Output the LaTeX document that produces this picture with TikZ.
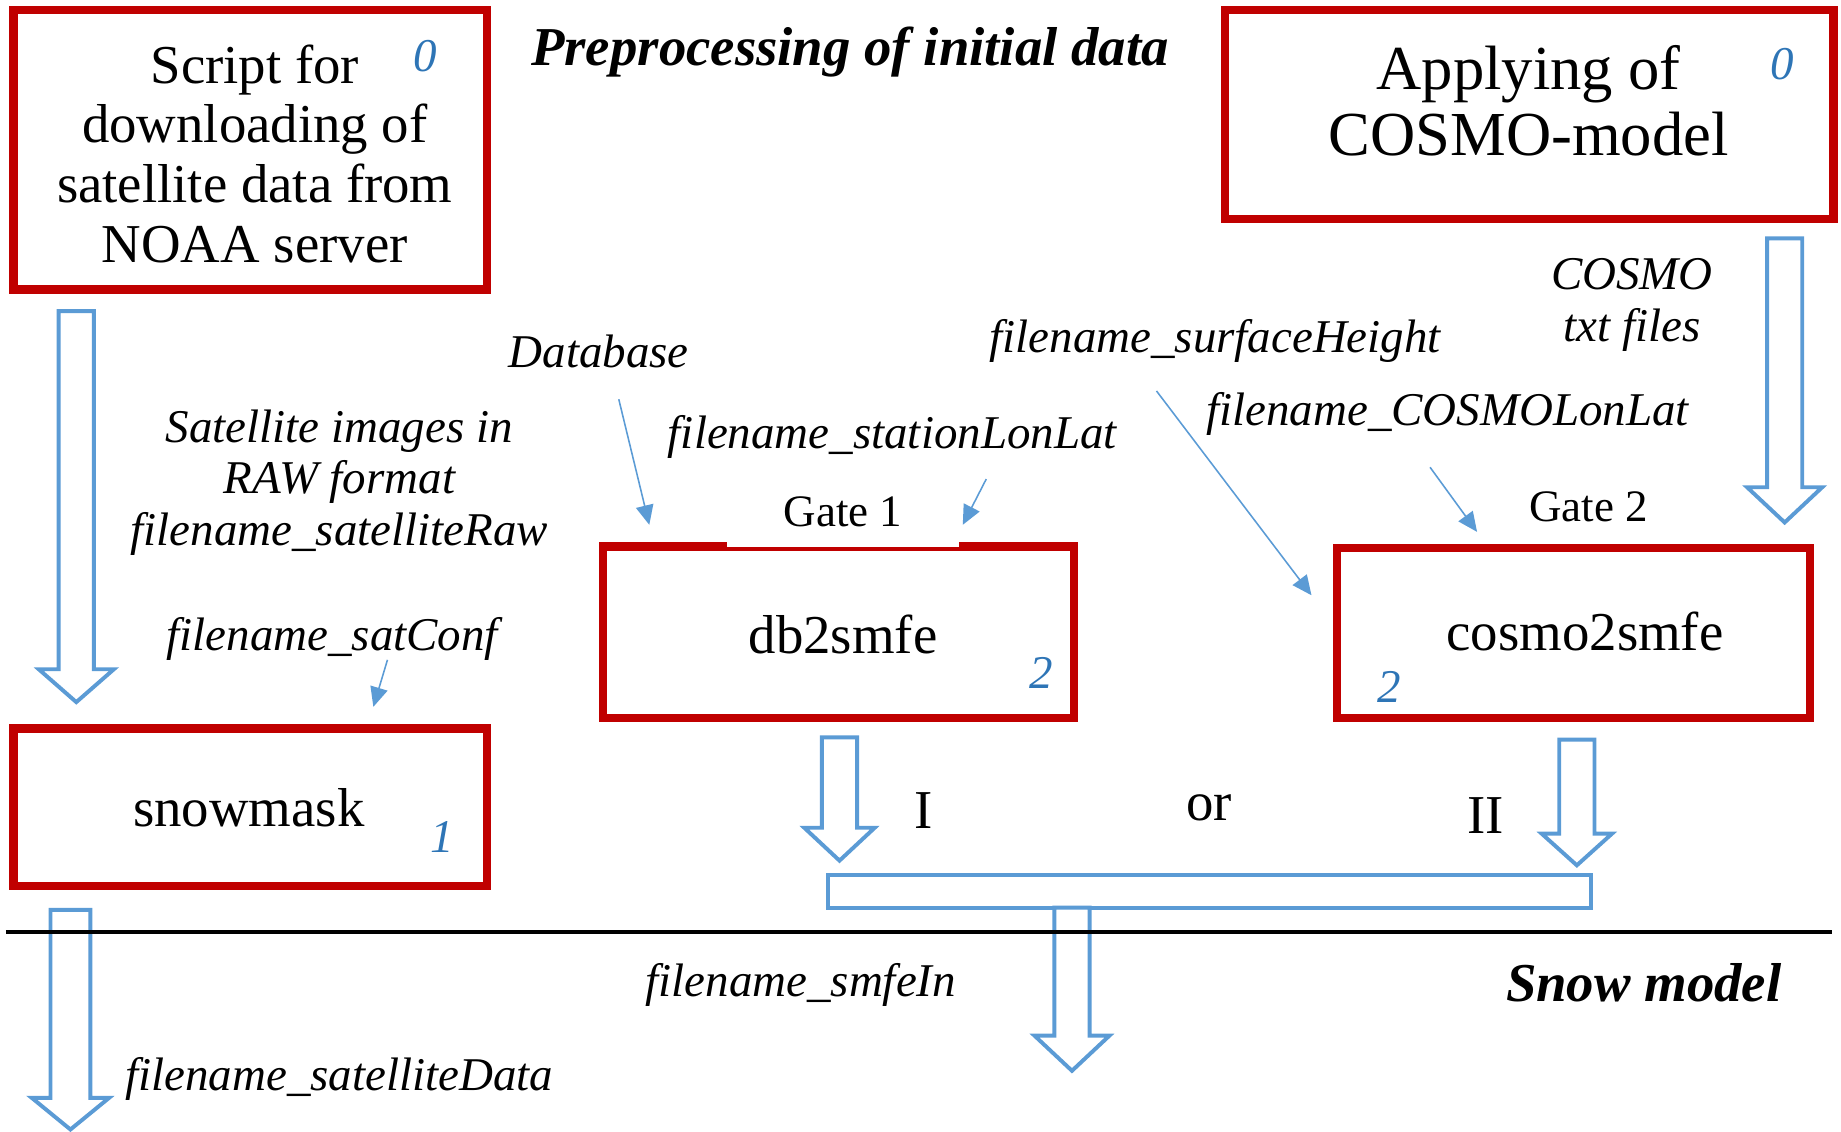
\documentclass[tikz,border=0pt]{standalone}
\usepackage{fontspec}
\setmainfont{Liberation Serif}
\usetikzlibrary{arrows.meta,fit}

\definecolor{boxred}{RGB}{192,0,0}
\definecolor{arrblue}{RGB}{91,155,213}
\definecolor{numblue}{RGB}{46,117,182}

% hollow block arrow pointing down: x, top, neck, tip, half shaft, half head
\newcommand\hollowarrow[6]{%
  \draw[blockarrow] ({#1-#5},#2) -- ({#1+#5},#2) -- ({#1+#5},#3) -- ({#1+#6},#3)
    -- (#1,#4) -- ({#1-#6},#3) -- ({#1-#5},#3) -- cycle;}

\tikzset{
  progbox/.style={draw=boxred, line width=4.2pt, rectangle, inner sep=0pt},
  blockarrow/.style={draw=arrblue, line width=2pt, fill=white, line join=miter},
  thinarrow/.style={draw=arrblue, line width=0.8pt,
    -{Triangle[length=10pt,width=9pt,fill=arrblue]}},
  boxtext/.style={font=\fontsize{28}{30.5}\selectfont, align=center, inner sep=0pt},
  bigtext/.style={font=\fontsize{32}{33.6}\selectfont, align=center, inner sep=0pt},
  flabel/.style={font=\fontsize{24}{26.4}\selectfont\itshape, align=center, inner sep=0pt},
  stepno/.style={font=\fontsize{24}{26}\selectfont\itshape, text=numblue, inner sep=0pt},
  gatetext/.style={font=\fontsize{23}{26}\selectfont},
  heading/.style={font=\fontsize{28}{30}\selectfont\bfseries\itshape, inner sep=0pt},
}

\begin{document}
\begin{tikzpicture}[x=0.6pt,y=-0.6pt]
\useasboundingbox (0,0) rectangle (1568,964);

% ---------- program boxes ----------
\node[progbox, fit={(11.5,8.5) (414.5,246.5)}] (script) {};
\node[progbox, fit={(1043.5,8.5) (1561.5,186.5)}] (cosmo) {};
\node[progbox, fit={(513.5,465.5) (914.5,611.5)}] (db) {};
\node[progbox, fit={(1138.5,466.5) (1541.5,611.5)}] (c2s) {};
\node[progbox, fit={(11.5,620.5) (414.5,754.5)}] (snow) {};

% ---------- box texts and step numbers ----------
\node[boxtext] (scripttxt) at (217,131) {Script for\\downloading of\\satellite data from\\NOAA server};
\node[stepno] (scriptno) at (362,48) {0};
\node[bigtext] (cosmotxt) at (1302,86) {Applying of\\COSMO-model};
\node[stepno] (cosmono) at (1518,55) {0};
\node[boxtext] (dbtxt) at (718,540) {db2smfe};
\node[stepno] (dbno) at (887,573) {2};
\node[boxtext] (c2stxt) at (1350,538) {cosmo2smfe};
\node[stepno] (c2sno) at (1183,585) {2};
\node[boxtext] (snowtxt) at (212,688) {snowmask};
\node[stepno] (snowno) at (377,713) {1};

% ---------- gates ----------
\node[gatetext, fill=white, minimum width=118.8pt, minimum height=36pt] (gate1) at (718,436) {Gate 1};
\node[gatetext] (gate2) at (1353,432) {Gate 2};

% ---------- headings ----------
\node[heading] (pre) at (724,44) {Preprocessing of initial data};
\node[heading] (snowmodel) at (1400,837) {Snow model};

% ---------- file labels ----------
\node[flabel] (rawlbl) at (289,411) {Satellite images in\\RAW format\\filename\_satelliteRaw};
\node[flabel] (conflbl) at (283,544) {filename\_satConf};
\node[flabel] (dblbl) at (510,299) {Database};
\node[flabel] (stlbl) at (760,372) {filename\_stationLonLat};
\node[flabel] (shlbl) at (1035,290) {filename\_surfaceHeight};
\node[flabel] (txtlbl) at (1390,260) {COSMO\\txt files};
\node[flabel] (cllbl) at (1233,353) {filename\_COSMOLonLat};
\node[flabel] (inlbl) at (682,839) {filename\_smfeIn};
\node[flabel] (datalbl) at (289,919) {filename\_satelliteData};

% ---------- variant labels ----------
\node[boxtext] (v1) at (787,690) {I};
\node[boxtext] (vor) at (1030,688) {or};
\node[boxtext] (v2) at (1265,695) {II};

% ---------- block arrows ----------
\hollowarrow{65}{265}{570}{598}{15}{32}
\hollowarrow{1520}{203}{415}{445}{15}{32}
\hollowarrow{715}{628}{705}{733}{15}{30}
\hollowarrow{1343}{630}{710}{737}{15}{30}
\draw[blockarrow] (705,745) rectangle (1355,773);
\hollowarrow{913}{773}{882}{912}{15}{32}
\hollowarrow{60}{775}{935}{962}{17}{33}

% ---------- thin input arrows ----------
\coordinate (confsrc) at (330,562);  \coordinate (confdst) at (318,602);
\coordinate (dbsrc) at (527,340);    \coordinate (dbdst) at (553,447);
\coordinate (stsrc) at (840,408);    \coordinate (stdst) at (820,447);
\coordinate (shsrc) at (985,333);    \coordinate (shdst) at (1117,507);
\coordinate (clsrc) at (1218,398);   \coordinate (cldst) at (1258,453);
\draw[thinarrow] (confsrc) -- (confdst);
\draw[thinarrow] (dbsrc) -- (dbdst);
\draw[thinarrow] (stsrc) -- (stdst);
\draw[thinarrow] (shsrc) -- (shdst);
\draw[thinarrow] (clsrc) -- (cldst);

% ---------- separator between preprocessing and snow model ----------
\coordinate (sepl) at (5,794);
\coordinate (sepr) at (1560,794);
\draw[line width=2pt, black] (sepl) -- (sepr);
\end{tikzpicture}
\end{document}
